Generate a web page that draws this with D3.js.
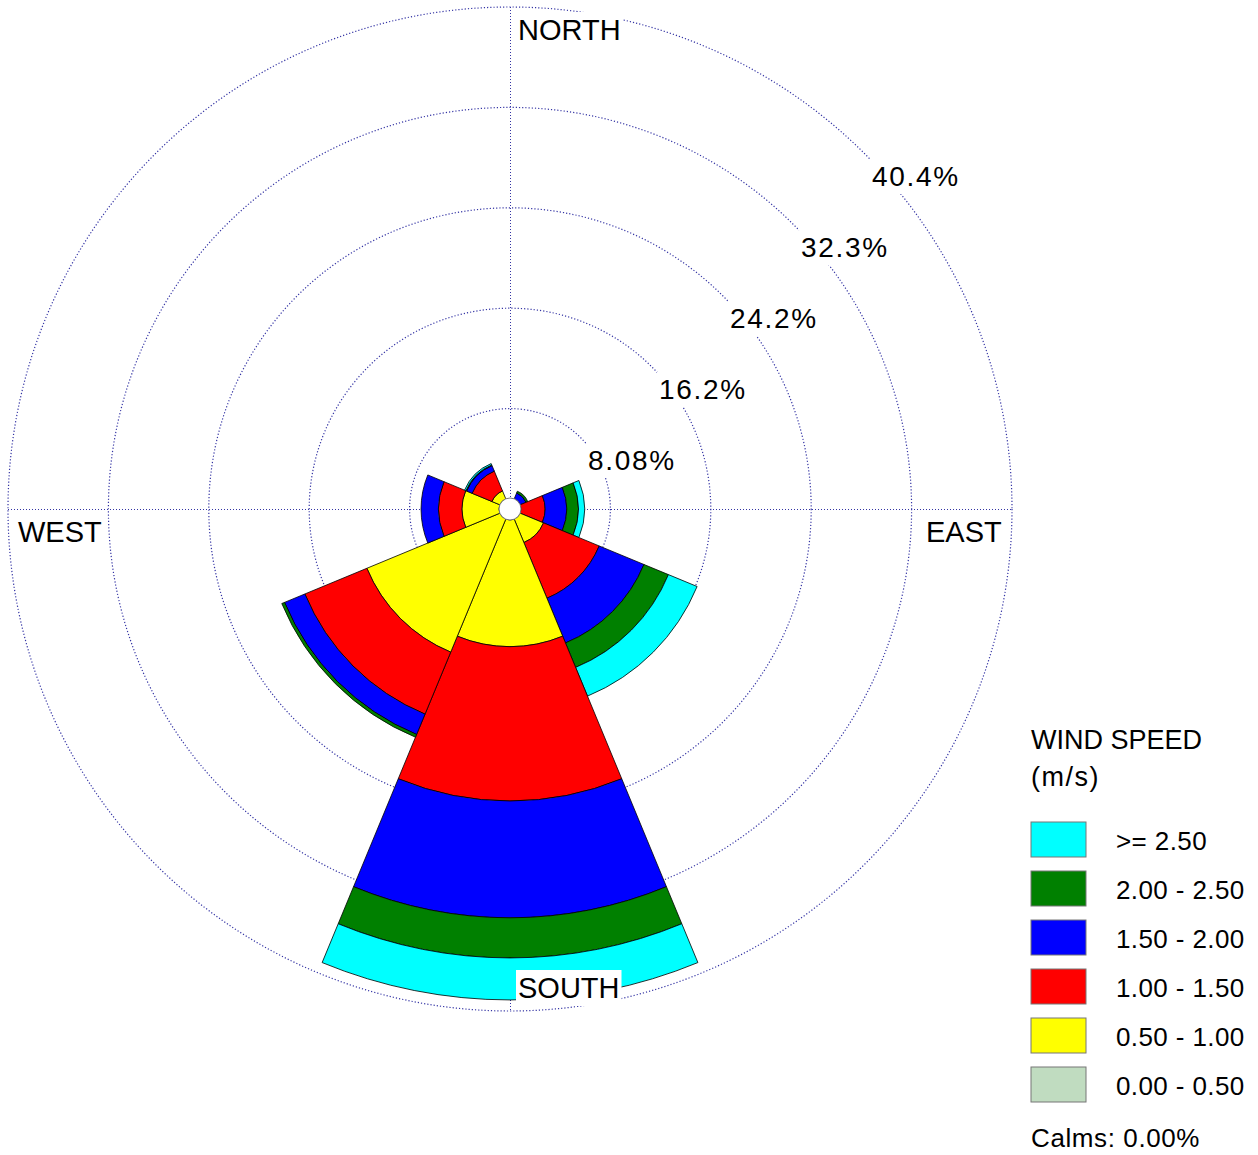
<!DOCTYPE html>
<html>
<head>
<meta charset="utf-8">
<script src="https://cdn.jsdelivr.net/npm/d3@7"></script>
<style>
  html, body { margin: 0; padding: 0; background: #fff; }
  svg text { font-family: "Liberation Sans", Arial, sans-serif; fill: #000; }
</style>
</head>
<body>
<svg id="chart" width="1258" height="1155"></svg>
<script>
// ---------------- DATA ----------------
const directions = ["N", "NE", "E", "SE", "S", "SW", "W", "NW"];
const directionAngles = [0, 45, 90, 135, 180, 225, 270, 315];
const speedBins = ["0.00 - 0.50", "0.50 - 1.00", "1.00 - 1.50", "1.50 - 2.00", "2.00 - 2.50", ">= 2.50"];
const binColors = ["#C0DCC0", "#FFFF00", "#FF0000", "#0000FF", "#008000", "#00FFFF"];
// frequency (%) per direction for each speed class
const speed00_05 = [0, 0, 0, 0, 0, 0, 0, 0];
const speed05_10 = [0, 0.30, 0.40, 2.92, 11.08, 12.47, 3.86, 1.57];
const speed10_15 = [0, 0.50, 2.42, 4.85, 12.42, 5.40, 1.89, 1.73];
const speed15_20 = [0, 0.60, 1.74, 3.90, 9.40, 1.77, 1.41, 0.48];
const speed20_25 = [0, 0.15, 0.94, 2.13, 3.23, 0.24, 0, 0.06];
const speed25up  = [0, 0, 0.50, 2.50, 3.38, 0, 0, 0.12];
const ringTicks = [8.08, 16.16, 24.24, 32.32, 40.4];
const ringLabels = ["8.08%", "16.2%", "24.2%", "32.3%", "40.4%"];
const cardinalLabels = ["NORTH", "EAST", "SOUTH", "WEST"];
const legendTitle = ["WIND SPEED", "(m/s)"];
const calmsText = "Calms: 0.00%";

// ---------------- CHART ----------------
const series = [speed00_05, speed05_10, speed10_15, speed15_20, speed20_25, speed25up];
const svg = d3.select("#chart");
const cx = 510, cy = 509, holeR = 11;
const r = d3.scaleLinear().domain([0, 40.4]).range([0, 502]);
const rad = d => d * Math.PI / 180;
const gridColor = "#3434a4";

const grid = svg.append("g");
grid.selectAll("circle").data(ringTicks).join("circle")
  .attr("cx", cx).attr("cy", cy).attr("r", d => r(d))
  .attr("fill", "none").attr("stroke", gridColor).attr("stroke-width", 1.2)
  .attr("stroke-dasharray", "1.2,2");
const rMax = r(ringTicks[ringTicks.length - 1]);
grid.append("line").attr("x1", cx - rMax).attr("x2", cx + rMax).attr("y1", cy + 0.5).attr("y2", cy + 0.5)
  .attr("stroke", gridColor).attr("stroke-width", 1).attr("stroke-dasharray", "1,2");
grid.append("line").attr("x1", cx + 0.5).attr("x2", cx + 0.5).attr("y1", cy - rMax).attr("y2", cy + rMax)
  .attr("stroke", gridColor).attr("stroke-width", 1).attr("stroke-dasharray", "1,2");

// petals
const arc = d3.arc();
const segs = [];
directions.forEach((dir, i) => {
  let cum = 0;
  series.forEach((s, b) => {
    const v = s[i];
    const inner = Math.max(holeR, r(cum));
    cum += v;
    const outer = r(cum);
    if (v > 0 && outer > inner) {
      segs.push({
        innerRadius: inner, outerRadius: outer,
        startAngle: rad(directionAngles[i] - 22.5),
        endAngle: rad(directionAngles[i] + 22.5),
        color: binColors[b]
      });
    }
  });
});
svg.append("g").attr("transform", `translate(${cx},${cy})`)
  .selectAll("path").data(segs).join("path")
  .attr("d", d => arc(d))
  .attr("fill", d => d.color)
  .attr("stroke", "#000").attr("stroke-width", 0.8).attr("stroke-linejoin", "miter");

// center hole
svg.append("circle").attr("cx", cx).attr("cy", cy).attr("r", holeR)
  .attr("fill", "#fff").attr("stroke", "#777").attr("stroke-width", 1);

// labels with white background
function boxedText(g, x, y, txt, size, spacing) {
  const t = g.append("text").attr("x", x).attr("y", y).text(txt)
    .style("font-size", size + "px").style("letter-spacing", spacing + "px");
  const bb = t.node().getBBox();
  g.insert("rect", "text").attr("x", bb.x - 2).attr("y", bb.y - 2)
    .attr("width", bb.width + 4).attr("height", bb.height + 4).attr("fill", "#fff");
}
const ringG = svg.append("g");
ringTicks.forEach((t, i) => {
  const rr = r(t);
  const g = ringG.append("g");
  boxedText(g, cx + rr * Math.SQRT1_2 + 7, cy - rr * Math.SQRT1_2 + 32, ringLabels[i], 28, 1.7);
});
const cardG = svg.append("g");
[[518, 40], [926, 542], [518, 998], [18, 542]].forEach((p, i) => {
  boxedText(cardG.append("g"), p[0], p[1], cardinalLabels[i], 29, 0);
});

// legend
const leg = svg.append("g");
leg.append("text").attr("x", 1031).attr("y", 749).text(legendTitle[0]).style("font-size", "27px");
leg.append("text").attr("x", 1031).attr("y", 786).text(legendTitle[1]).style("font-size", "27px").style("letter-spacing", "1.5px");
const legOrder = d3.range(speedBins.length).reverse();
legOrder.forEach((b, k) => {
  const y0 = 822 + k * 49;
  leg.append("rect").attr("x", 1031).attr("y", y0).attr("width", 55).attr("height", 35)
    .attr("fill", binColors[b]).attr("stroke", "#777").attr("stroke-width", 1);
  leg.append("text").attr("x", 1116).attr("y", y0 + 27.5).text(speedBins[b])
    .style("font-size", "26px").style("letter-spacing", "0.4px");
});
leg.append("text").attr("x", 1031).attr("y", 1147).text(calmsText)
  .style("font-size", "26px").style("letter-spacing", "0.6px");
</script>
</body>
</html>
